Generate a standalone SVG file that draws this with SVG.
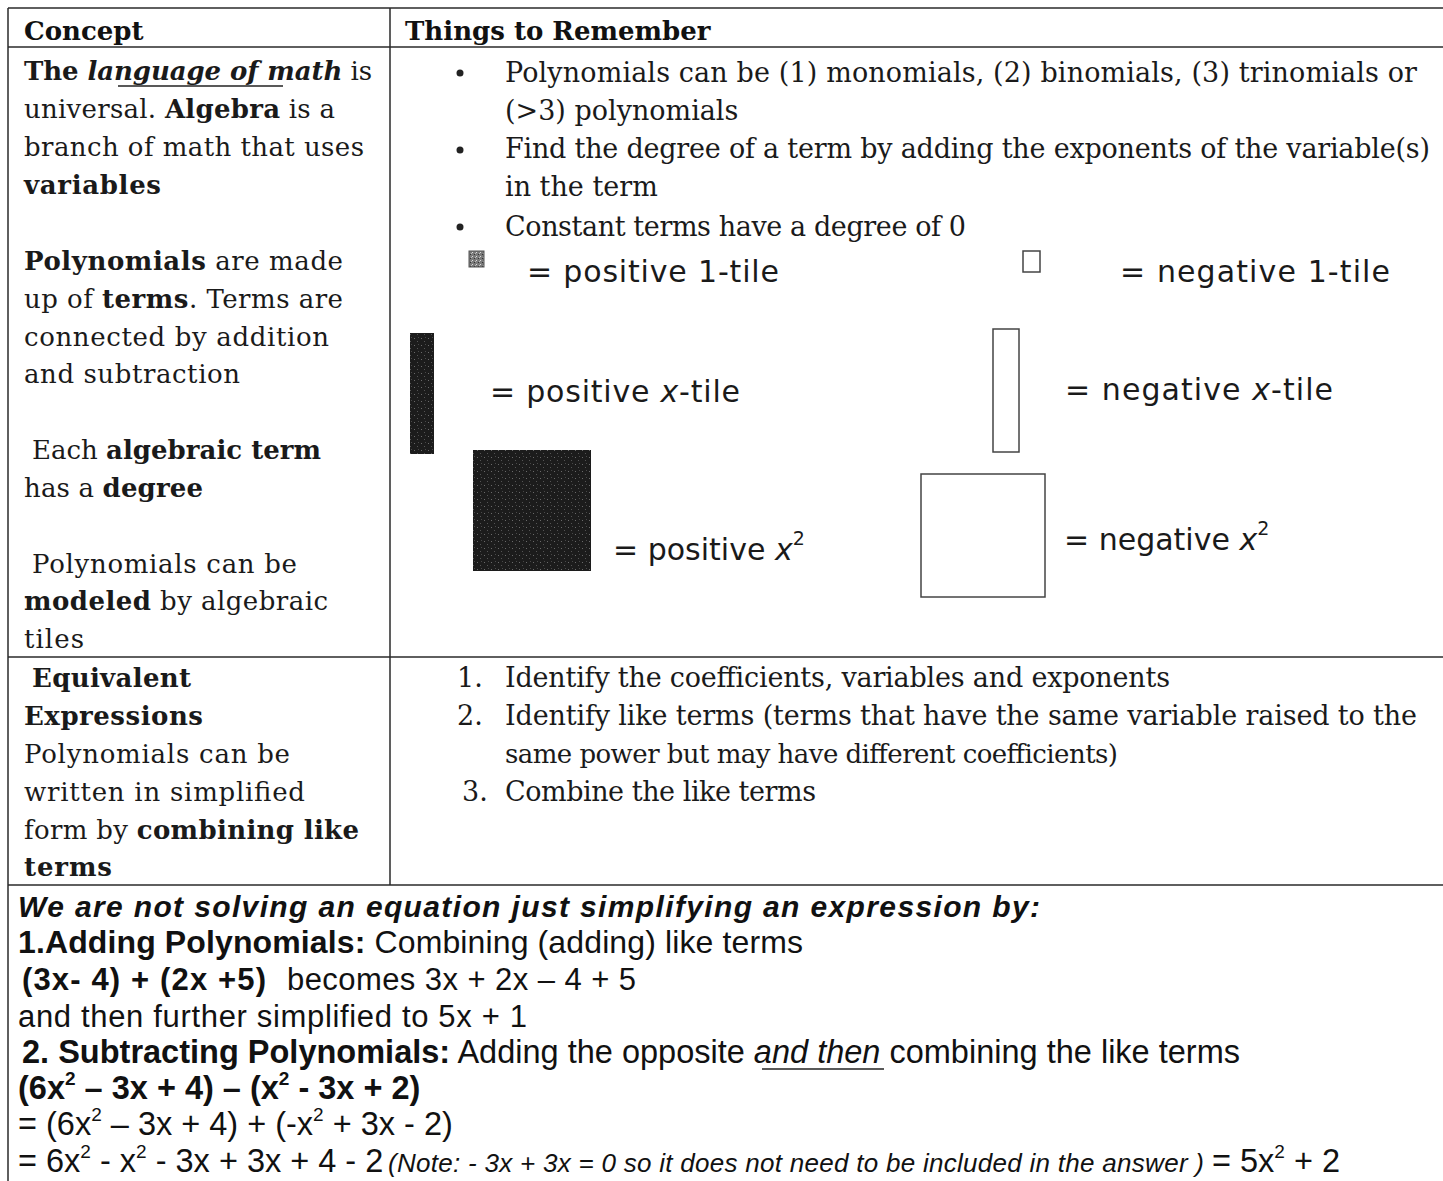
<svg xmlns="http://www.w3.org/2000/svg" width="1443" height="1181" viewBox="0 0 1443 1181">
<defs>
<style>
.grid{stroke:#2a2a2a;stroke-width:1.5;fill:none}
.s{font-family:"DejaVu Serif","Liberation Serif",serif;font-size:26px;fill:#1a1a1a}
.r{font-size:27px}
.h{font-family:"DejaVu Serif","Liberation Serif",serif;font-size:26px;font-weight:bold;fill:#111}
.b{font-weight:bold}
.bi{font-weight:bold;font-style:italic}
.i{font-style:italic}
.t{font-family:"DejaVu Sans","Liberation Sans",sans-serif;font-size:30px;fill:#1a1a1a}
.a{font-family:"Liberation Sans",Arial,sans-serif;font-size:30px;fill:#111}
.a1{font-size:31px}
.a2{font-size:32.5px}
.note{font-family:"Liberation Sans",Arial,sans-serif;font-size:26px;font-style:italic;fill:#111}
.sup{font-size:19px}
.dot{fill:#222}
.ul{stroke:#222;stroke-width:1.5}
.neg{fill:#fff;stroke:#444;stroke-width:1.5}
</style>
<pattern id="speck" width="7" height="7" patternUnits="userSpaceOnUse">
<rect width="7" height="7" fill="#1c1c1c"/>
<rect x="1" y="2" width="1" height="1" fill="#6a6a6a"/>
<rect x="4" y="5" width="1" height="1" fill="#555"/>
<rect x="5" y="1" width="1" height="1" fill="#484848"/>
</pattern>
<pattern id="speck1" width="4" height="4" patternUnits="userSpaceOnUse">
<rect width="4" height="4" fill="#7a7a7a"/>
<rect x="0" y="0" width="1" height="1" fill="#ddd"/>
<rect x="2" y="2" width="1" height="1" fill="#333"/>
<rect x="3" y="1" width="1" height="1" fill="#bbb"/>
</pattern>
</defs>

<g id="table-lines" class="grid">
<line x1="8" y1="8" x2="1443" y2="8"/>
<line x1="8" y1="47" x2="1443" y2="47"/>
<line x1="8" y1="657" x2="1443" y2="657"/>
<line x1="8" y1="885" x2="1443" y2="885"/>
<line x1="8" y1="8" x2="8" y2="1181"/>
<line x1="390" y1="8" x2="390" y2="885"/>
</g>

<g id="header">
<text class="h" x="24" y="40">Concept</text>
<text class="h" x="405" y="40">Things to Remember</text>
</g>

<g id="concept-1">
<text class="s" x="24" y="80" textLength="348"><tspan class="b">The </tspan><tspan class="bi">language of math</tspan> is</text>
<line class="ul" x1="118" y1="86" x2="283" y2="86"/>
<text class="s" x="24" y="118" textLength="311">universal. <tspan class="b">Algebra</tspan> is a</text>
<text class="s" x="24" y="156" textLength="340">branch of math that uses</text>
<text class="s b" x="24" y="194" textLength="137">variables</text>
<text class="s" x="24" y="270" textLength="319"><tspan class="b">Polynomials</tspan> are made</text>
<text class="s" x="24" y="308" textLength="319">up of <tspan class="b">terms</tspan>. Terms are</text>
<text class="s" x="24" y="346" textLength="305">connected by addition</text>
<text class="s" x="24" y="383" textLength="216">and subtraction</text>
<text class="s" x="32" y="459" textLength="289">Each <tspan class="b">algebraic term</tspan></text>
<text class="s" x="24" y="497" textLength="179">has a <tspan class="b">degree</tspan></text>
<text class="s" x="32" y="573" textLength="265">Polynomials can be</text>
<text class="s" x="24" y="610" textLength="304"><tspan class="b">modeled</tspan> by algebraic</text>
<text class="s" x="24" y="648" textLength="60">tiles</text>
</g>

<g id="remember-1">
<circle class="dot" cx="460" cy="73" r="3.5"/>
<circle class="dot" cx="460" cy="150" r="3.5"/>
<circle class="dot" cx="460" cy="227" r="3.5"/>
<text class="s r" x="505" y="82" textLength="912">Polynomials can be (1) monomials, (2) binomials, (3) trinomials or</text>
<text class="s r" x="505" y="120">(&gt;3) polynomials</text>
<text class="s r" x="505" y="158" textLength="925">Find the degree of a term by adding the exponents of the variable(s)</text>
<text class="s r" x="505" y="196">in the term</text>
<text class="s r" x="505" y="236" textLength="461">Constant terms have a degree of 0</text>
</g>

<g id="tile-pos-1">
<rect x="469" y="251" width="15" height="16" fill="url(#speck1)" stroke="#555" stroke-width="1"/>
<text class="t" x="527" y="282" textLength="252">= positive 1-tile</text>
</g>
<g id="tile-neg-1">
<rect class="neg" x="1023" y="251" width="17" height="21"/>
<text class="t" x="1120" y="282" textLength="270">= negative 1-tile</text>
</g>
<g id="tile-pos-x">
<rect x="410" y="333" width="24" height="121" fill="url(#speck)"/>
<text class="t" x="490" y="402" textLength="250">= positive <tspan class="i">x</tspan>-tile</text>
</g>
<g id="tile-neg-x">
<rect class="neg" x="993" y="329" width="26" height="123"/>
<text class="t" x="1065" y="400" textLength="268">= negative <tspan class="i">x</tspan>-tile</text>
</g>
<g id="tile-pos-x2">
<rect x="473" y="450" width="118" height="121" fill="url(#speck)"/>
<text class="t" x="613" y="560">= positive <tspan class="i">x</tspan><tspan class="sup" dy="-15">2</tspan></text>
</g>
<g id="tile-neg-x2">
<rect class="neg" x="921" y="474" width="124" height="123"/>
<text class="t" x="1064" y="550">= negative <tspan class="i">x</tspan><tspan class="sup" dy="-15">2</tspan></text>
</g>

<g id="concept-2">
<text class="s b" x="32" y="687" textLength="159">Equivalent</text>
<text class="s b" x="24" y="725" textLength="179">Expressions</text>
<text class="s" x="24" y="763" textLength="266">Polynomials can be</text>
<text class="s" x="24" y="801" textLength="281">written in simplified</text>
<text class="s" x="24" y="839" textLength="335">form by <tspan class="b">combining like</tspan></text>
<text class="s b" x="24" y="876" textLength="88">terms</text>
</g>

<g id="remember-2">
<text class="s r" x="457" y="687">1.</text>
<text class="s r" x="505" y="687" textLength="665">Identify the coefficients, variables and exponents</text>
<text class="s r" x="457" y="725">2.</text>
<text class="s r" x="505" y="725" textLength="912">Identify like terms (terms that have the same variable raised to the</text>
<text class="s" x="505" y="763" textLength="613">same power but may have different coefficients)</text>
<text class="s r" x="462" y="801">3.</text>
<text class="s r" x="505" y="801" textLength="311">Combine the like terms</text>
</g>

<g id="simplify">
<text class="a bi" x="18" y="917" textLength="1022">We are not solving an equation just simplifying an expression by:</text>
<text class="a" x="18" y="953" textLength="785" style="font-size:32px"><tspan class="b">1.Adding Polynomials:</tspan> Combining (adding) like terms</text>
<text class="a a1 b" x="22" y="990" textLength="244">(3x- 4) + (2x +5)</text>
<text class="a a1" x="287" y="990" textLength="349">becomes 3x + 2x – 4 + 5</text>
<text class="a a1" x="18" y="1027" textLength="509">and then further simplified to 5x + 1</text>
<text class="a a2" x="22" y="1063" textLength="1218"><tspan class="b">2. Subtracting Polynomials:</tspan> Adding the opposite <tspan class="i">and then</tspan> combining the like terms</text>
<line class="ul" x1="762" y1="1069" x2="884" y2="1069"/>
<text class="a a2 b" x="18" y="1099">(6x<tspan class="sup" dy="-14">2</tspan><tspan dy="14"> – 3x + 4) – (x</tspan><tspan class="sup" dy="-14">2</tspan><tspan dy="14"> - 3x + 2)</tspan></text>
<text class="a a2" x="18" y="1135">= (6x<tspan class="sup" dy="-14">2</tspan><tspan dy="14"> – 3x + 4) + (-x</tspan><tspan class="sup" dy="-14">2</tspan><tspan dy="14"> + 3x - 2)</tspan></text>
<text class="a a2" x="18" y="1172">= 6x<tspan class="sup" dy="-14">2</tspan><tspan dy="14"> - x</tspan><tspan class="sup" dy="-14">2</tspan><tspan dy="14"> - 3x + 3x + 4 - 2</tspan></text>
<text class="note" x="388" y="1172" textLength="816">(Note: - 3x + 3x = 0 so it does not need to be included in the answer )</text>
<text class="a a2" x="1212" y="1172">= 5x<tspan class="sup" dy="-14">2</tspan><tspan dy="14">  + 2</tspan></text>
</g>
</svg>
